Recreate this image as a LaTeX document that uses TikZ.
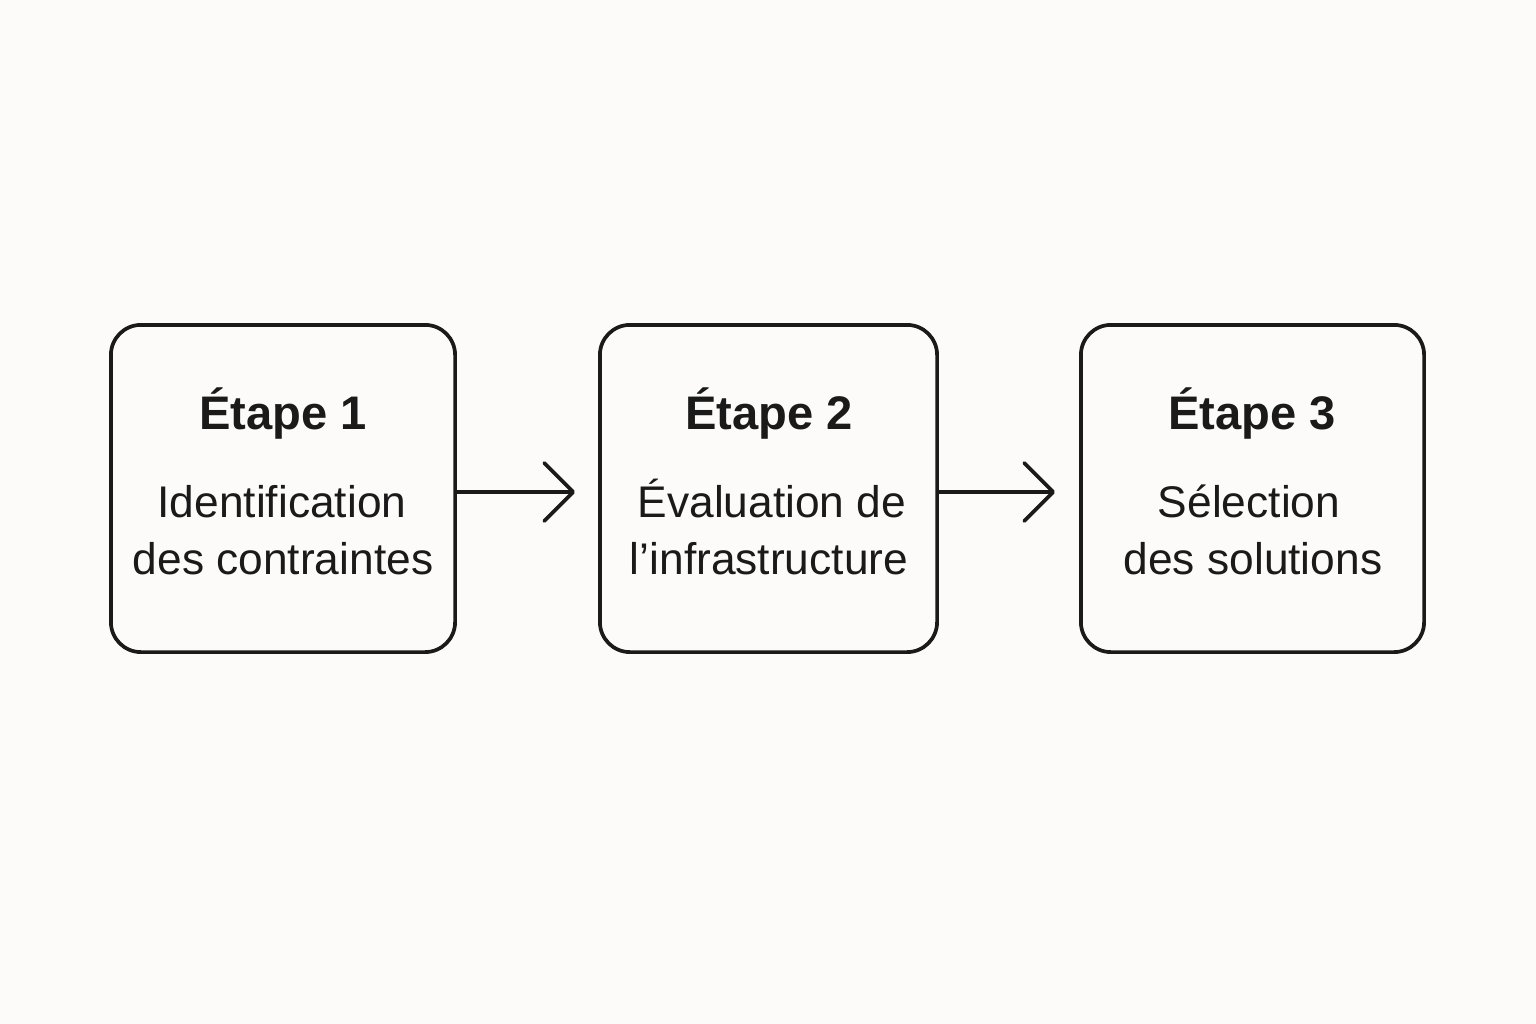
\documentclass[tikz,border=0pt]{standalone}
\usepackage{fontspec}
\setmainfont{Liberation Sans}
\usetikzlibrary{arrows.meta}
\definecolor{bg}{HTML}{FCFBF9}
\definecolor{ink}{HTML}{1A1A1A}
\begin{document}
\begin{tikzpicture}[x=0.01cm,y=-0.01cm,
  stepbox/.style={draw=ink,line width=0.37mm,rounded corners=3mm,minimum width=#1,minimum height=32.7mm,inner sep=0pt},
  title/.style={font=\fontsize{13.4pt}{15pt}\selectfont\bfseries,text=ink,anchor=base,inner sep=0pt},
  body/.style={font=\fontsize{12.6pt}{15pt}\selectfont,text=ink,anchor=base,inner sep=0pt},
  conn/.style={draw=ink,line width=0.37mm,-{Straight Barb[length=2.9mm,width=5.8mm,line width=0.37mm,round]}}]
\fill[bg] (0,0) rectangle (1536,1024);
\useasboundingbox (0,0) rectangle (1536,1024);
\node[stepbox=34.4mm] (b1) at (283,488.5) {};
\node[stepbox=33.7mm] (b2) at (768.5,488.5) {};
\node[stepbox=34.3mm] (b3) at (1252.5,488.5) {};
\node[title] (t1) at (283,429) {Étape 1};
\node[title] (t2) at (769,429) {Étape 2};
\node[title] (t3) at (1252,429) {Étape 3};
\node[body] (d1a) at (282,517) {Identification};
\node[body] (d1b) at (283,574) {des contraintes};
\node[body] (d2a) at (772,517) {Évaluation de};
\node[body] (d2b) at (769,574) {l’infrastructure};
\node[body] (d3a) at (1249,517) {Sélection};
\node[body] (d3b) at (1253,574) {des solutions};
\coordinate (e1) at (575,492);
\coordinate (e2) at (1055,492);
\draw[conn] (b1.east |- e1) -- (e1);
\draw[conn] (b2.east |- e2) -- (e2);
\end{tikzpicture}
\end{document}
